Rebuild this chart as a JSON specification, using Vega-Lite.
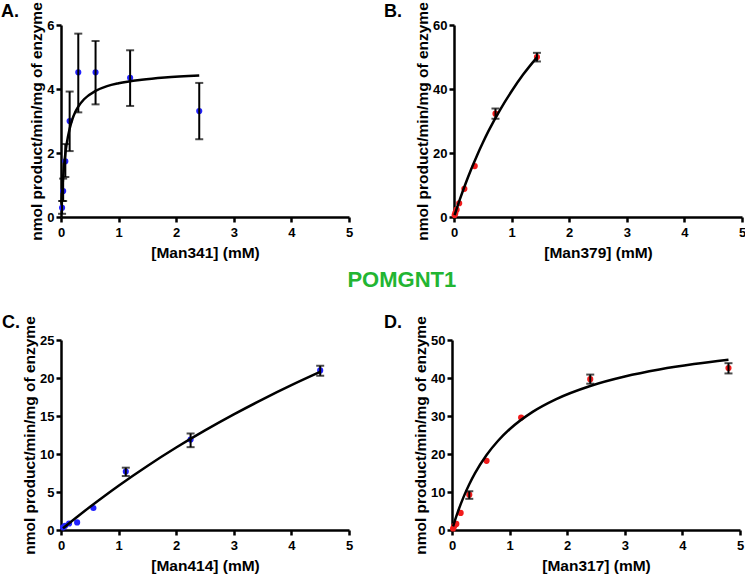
{
  "$schema": "https://vega.github.io/schema/vega-lite/v6.json",
  "padding": {"left": 1, "top": 1, "right": 0, "bottom": 0},
  "background": "white",
  "config": {
    "font": "Liberation Sans",
    "view": {"stroke": null},
    "axis": {
      "grid": false,
      "domainColor": "#000",
      "domainWidth": 2.5,
      "tickColor": "#000",
      "tickWidth": 2.5,
      "tickSize": 5,
      "labelFont": "Liberation Sans",
      "labelFontSize": 13,
      "labelFontWeight": "bold",
      "labelColor": "#000",
      "labelPadding": 2,
      "labelFlush": false,
      "titleFont": "Liberation Sans",
      "titleFontSize": 15.5,
      "titleFontWeight": "bold",
      "titleColor": "#000",
      "titlePadding": 2
    },
    "axisX": {"labelPadding": 4, "titlePadding": 6},
    "title": {"font": "Liberation Sans"}
  },
  "datasets": {
    "a_pts": [
      {"x": 0.01875, "y": 0.29, "lo": 0.1, "hi": 0.5},
      {"x": 0.0375, "y": 0.81, "lo": 0.5, "hi": 1.2},
      {"x": 0.075, "y": 1.74, "lo": 1.25, "hi": 2.28},
      {"x": 0.15, "y": 3.0, "lo": 2.06, "hi": 3.92},
      {"x": 0.3, "y": 4.52, "lo": 3.27, "hi": 5.73},
      {"x": 0.6, "y": 4.52, "lo": 3.52, "hi": 5.5},
      {"x": 1.2, "y": 4.35, "lo": 3.47, "hi": 5.21},
      {"x": 2.4, "y": 3.31, "lo": 2.43, "hi": 4.19}
    ],
    "a_fit": [
      {"x": 0.01, "y": 0.42}, {"x": 0.02, "y": 0.77}, {"x": 0.035, "y": 1.19}, {"x": 0.05, "y": 1.53},
      {"x": 0.075, "y": 1.97}, {"x": 0.1, "y": 2.3}, {"x": 0.15, "y": 2.76}, {"x": 0.2, "y": 3.07},
      {"x": 0.25, "y": 3.29}, {"x": 0.3, "y": 3.45}, {"x": 0.4, "y": 3.68}, {"x": 0.6, "y": 3.94},
      {"x": 0.8, "y": 4.09}, {"x": 1.0, "y": 4.18}, {"x": 1.4, "y": 4.29}, {"x": 1.8, "y": 4.36},
      {"x": 2.4, "y": 4.42}
    ],
    "b_pts": [
      {"x": 0.01125, "y": 0.6},
      {"x": 0.0225, "y": 1.2},
      {"x": 0.045, "y": 2.3},
      {"x": 0.09, "y": 4.3},
      {"x": 0.18, "y": 8.8},
      {"x": 0.36, "y": 15.9},
      {"x": 0.72, "y": 32.3, "lo": 30.7, "hi": 33.9},
      {"x": 1.44, "y": 50.0, "lo": 48.6, "hi": 51.3}
    ],
    "b_fit": [
      {"x": 0.01, "y": 0.56}, {"x": 0.05, "y": 2.77}, {"x": 0.1, "y": 5.42}, {"x": 0.2, "y": 10.4},
      {"x": 0.3, "y": 15.0}, {"x": 0.4, "y": 19.25}, {"x": 0.5, "y": 23.2}, {"x": 0.6, "y": 26.9},
      {"x": 0.8, "y": 33.5}, {"x": 1.0, "y": 39.3}, {"x": 1.2, "y": 44.5}, {"x": 1.44, "y": 49.9}
    ],
    "c_pts": [
      {"x": 0.035, "y": 0.35},
      {"x": 0.07, "y": 0.55},
      {"x": 0.14, "y": 0.85},
      {"x": 0.28, "y": 1.0},
      {"x": 0.5625, "y": 2.9},
      {"x": 1.125, "y": 7.7, "lo": 7.1, "hi": 8.2},
      {"x": 2.25, "y": 11.9, "lo": 10.9, "hi": 12.7},
      {"x": 4.5, "y": 21.0, "lo": 20.3, "hi": 21.6}
    ],
    "c_fit": [
      {"x": 0.035, "y": 0.22}, {"x": 0.1, "y": 0.62}, {"x": 0.25, "y": 1.54}, {"x": 0.5, "y": 3.03},
      {"x": 0.75, "y": 4.45}, {"x": 1.0, "y": 5.83}, {"x": 1.5, "y": 8.43}, {"x": 2.0, "y": 10.85},
      {"x": 2.5, "y": 13.1}, {"x": 3.0, "y": 15.21}, {"x": 3.5, "y": 17.19}, {"x": 4.0, "y": 19.05},
      {"x": 4.5, "y": 20.8}
    ],
    "d_pts": [
      {"x": 0.01875, "y": 0.4},
      {"x": 0.0375, "y": 1.0},
      {"x": 0.075, "y": 1.6},
      {"x": 0.15, "y": 4.5},
      {"x": 0.3, "y": 9.3, "lo": 8.2, "hi": 10.2},
      {"x": 0.6, "y": 18.2},
      {"x": 1.2, "y": 29.6},
      {"x": 2.4, "y": 39.7, "lo": 38.5, "hi": 40.9},
      {"x": 4.8, "y": 42.6, "lo": 41.2, "hi": 43.9}
    ],
    "d_fit": [
      {"x": 0.01875, "y": 0.95}, {"x": 0.05, "y": 2.46}, {"x": 0.1, "y": 4.7}, {"x": 0.2, "y": 8.65},
      {"x": 0.3, "y": 12.03}, {"x": 0.4, "y": 14.95}, {"x": 0.6, "y": 19.73}, {"x": 0.8, "y": 23.48},
      {"x": 1.0, "y": 26.51}, {"x": 1.4, "y": 31.09}, {"x": 1.8, "y": 34.39}, {"x": 2.4, "y": 37.91},
      {"x": 3.0, "y": 40.4}, {"x": 3.6, "y": 42.24}, {"x": 4.2, "y": 43.67}, {"x": 4.8, "y": 44.8}
    ]
  },
  "spacing": 7,
  "vconcat": [
    {
      "spacing": 31,
      "hconcat": [
        {
          "width": 288, "height": 192,
          "title": {"text": "A.", "anchor": "start", "frame": "group", "dx": -60, "offset": -19, "fontSize": 18, "fontWeight": "bold", "color": "#000"},
          "layer": [
            {"data": {"name": "a_pts"}, "mark": {"type": "circle", "size": 38, "opacity": 1, "color": "#2222ff"},
             "encoding": {
               "x": {"field": "x", "type": "quantitative", "scale": {"domain": [0, 5], "nice": false}, "axis": {"values": [0, 1, 2, 3, 4, 5], "title": "[Man341] (mM)"}},
               "y": {"field": "y", "type": "quantitative", "scale": {"domain": [0, 6], "nice": false}, "axis": {"values": [0, 2, 4, 6], "title": "nmol product/min/mg of enzyme"}}}},
            {"data": {"name": "a_pts"}, "transform": [{"filter": "isValid(datum.lo)"}], "mark": {"type": "rule", "strokeWidth": 2, "color": "#000"},
             "encoding": {"x": {"field": "x", "type": "quantitative", "axis": {"values": [0, 1, 2, 3, 4, 5], "title": "[Man341] (mM)"}}, "y": {"field": "lo", "type": "quantitative", "axis": {"values": [0, 2, 4, 6], "title": "nmol product/min/mg of enzyme"}}, "y2": {"field": "hi"}}},
            {"data": {"name": "a_pts"}, "transform": [{"filter": "isValid(datum.lo)"}], "mark": {"type": "tick", "orient": "horizontal", "size": 8, "thickness": 2, "color": "#000"},
             "encoding": {"x": {"field": "x", "type": "quantitative", "axis": {"values": [0, 1, 2, 3, 4, 5], "title": "[Man341] (mM)"}}, "y": {"field": "lo", "type": "quantitative", "axis": {"values": [0, 2, 4, 6], "title": "nmol product/min/mg of enzyme"}}}},
            {"data": {"name": "a_pts"}, "transform": [{"filter": "isValid(datum.lo)"}], "mark": {"type": "tick", "orient": "horizontal", "size": 8, "thickness": 2, "color": "#000"},
             "encoding": {"x": {"field": "x", "type": "quantitative", "axis": {"values": [0, 1, 2, 3, 4, 5], "title": "[Man341] (mM)"}}, "y": {"field": "hi", "type": "quantitative", "axis": {"values": [0, 2, 4, 6], "title": "nmol product/min/mg of enzyme"}}}},
            {"data": {"name": "a_fit"}, "mark": {"type": "line", "strokeWidth": 2.5, "color": "#000", "interpolate": "monotone"},
             "encoding": {"x": {"field": "x", "type": "quantitative", "axis": {"values": [0, 1, 2, 3, 4, 5], "title": "[Man341] (mM)"}}, "y": {"field": "y", "type": "quantitative", "axis": {"values": [0, 2, 4, 6], "title": "nmol product/min/mg of enzyme"}}}}
          ]
        },
        {
          "width": 288, "height": 192,
          "title": {"text": "B.", "anchor": "start", "frame": "group", "dx": -70, "offset": -19, "fontSize": 18, "fontWeight": "bold", "color": "#000"},
          "layer": [
            {"data": {"name": "b_pts"}, "mark": {"type": "circle", "size": 38, "opacity": 1, "color": "#f21c1c"},
             "encoding": {
               "x": {"field": "x", "type": "quantitative", "scale": {"domain": [0, 5], "nice": false}, "axis": {"values": [0, 1, 2, 3, 4, 5], "title": "[Man379] (mM)"}},
               "y": {"field": "y", "type": "quantitative", "scale": {"domain": [0, 60], "nice": false}, "axis": {"values": [0, 20, 40, 60], "title": "nmol product/min/mg of enzyme"}}}},
            {"data": {"name": "b_pts"}, "transform": [{"filter": "isValid(datum.lo)"}], "mark": {"type": "rule", "strokeWidth": 2, "color": "#000"},
             "encoding": {"x": {"field": "x", "type": "quantitative", "axis": {"values": [0, 1, 2, 3, 4, 5], "title": "[Man379] (mM)"}}, "y": {"field": "lo", "type": "quantitative", "axis": {"values": [0, 20, 40, 60], "title": "nmol product/min/mg of enzyme"}}, "y2": {"field": "hi"}}},
            {"data": {"name": "b_pts"}, "transform": [{"filter": "isValid(datum.lo)"}], "mark": {"type": "tick", "orient": "horizontal", "size": 8, "thickness": 2, "color": "#000"},
             "encoding": {"x": {"field": "x", "type": "quantitative", "axis": {"values": [0, 1, 2, 3, 4, 5], "title": "[Man379] (mM)"}}, "y": {"field": "lo", "type": "quantitative", "axis": {"values": [0, 20, 40, 60], "title": "nmol product/min/mg of enzyme"}}}},
            {"data": {"name": "b_pts"}, "transform": [{"filter": "isValid(datum.lo)"}], "mark": {"type": "tick", "orient": "horizontal", "size": 8, "thickness": 2, "color": "#000"},
             "encoding": {"x": {"field": "x", "type": "quantitative", "axis": {"values": [0, 1, 2, 3, 4, 5], "title": "[Man379] (mM)"}}, "y": {"field": "hi", "type": "quantitative", "axis": {"values": [0, 20, 40, 60], "title": "nmol product/min/mg of enzyme"}}}},
            {"data": {"name": "b_fit"}, "mark": {"type": "line", "strokeWidth": 2.5, "color": "#000", "interpolate": "monotone"},
             "encoding": {"x": {"field": "x", "type": "quantitative", "axis": {"values": [0, 1, 2, 3, 4, 5], "title": "[Man379] (mM)"}}, "y": {"field": "y", "type": "quantitative", "axis": {"values": [0, 20, 40, 60], "title": "nmol product/min/mg of enzyme"}}}}
          ]
        }
      ]
    },
    {
      "spacing": 31,
      "title": {"text": "POMGNT1", "anchor": "middle", "offset": 22, "dx": 29, "fontSize": 22, "fontWeight": "bold", "color": "#22b532"},
      "hconcat": [
        {
          "width": 288, "height": 190,
          "title": {"text": "C.", "anchor": "start", "frame": "group", "dx": -59, "offset": -16, "fontSize": 18, "fontWeight": "bold", "color": "#000"},
          "layer": [
            {"data": {"name": "c_pts"}, "mark": {"type": "circle", "size": 38, "opacity": 1, "color": "#2222ff"},
             "encoding": {
               "x": {"field": "x", "type": "quantitative", "scale": {"domain": [0, 5], "nice": false}, "axis": {"values": [0, 1, 2, 3, 4, 5], "title": "[Man414] (mM)"}},
               "y": {"field": "y", "type": "quantitative", "scale": {"domain": [0, 25], "nice": false}, "axis": {"values": [0, 5, 10, 15, 20, 25], "title": "nmol product/min/mg of enzyme"}}}},
            {"data": {"name": "c_pts"}, "transform": [{"filter": "isValid(datum.lo)"}], "mark": {"type": "rule", "strokeWidth": 2, "color": "#000"},
             "encoding": {"x": {"field": "x", "type": "quantitative", "axis": {"values": [0, 1, 2, 3, 4, 5], "title": "[Man414] (mM)"}}, "y": {"field": "lo", "type": "quantitative", "axis": {"values": [0, 5, 10, 15, 20, 25], "title": "nmol product/min/mg of enzyme"}}, "y2": {"field": "hi"}}},
            {"data": {"name": "c_pts"}, "transform": [{"filter": "isValid(datum.lo)"}], "mark": {"type": "tick", "orient": "horizontal", "size": 8, "thickness": 2, "color": "#000"},
             "encoding": {"x": {"field": "x", "type": "quantitative", "axis": {"values": [0, 1, 2, 3, 4, 5], "title": "[Man414] (mM)"}}, "y": {"field": "lo", "type": "quantitative", "axis": {"values": [0, 5, 10, 15, 20, 25], "title": "nmol product/min/mg of enzyme"}}}},
            {"data": {"name": "c_pts"}, "transform": [{"filter": "isValid(datum.lo)"}], "mark": {"type": "tick", "orient": "horizontal", "size": 8, "thickness": 2, "color": "#000"},
             "encoding": {"x": {"field": "x", "type": "quantitative", "axis": {"values": [0, 1, 2, 3, 4, 5], "title": "[Man414] (mM)"}}, "y": {"field": "hi", "type": "quantitative", "axis": {"values": [0, 5, 10, 15, 20, 25], "title": "nmol product/min/mg of enzyme"}}}},
            {"data": {"name": "c_fit"}, "mark": {"type": "line", "strokeWidth": 2.5, "color": "#000", "interpolate": "monotone"},
             "encoding": {"x": {"field": "x", "type": "quantitative", "axis": {"values": [0, 1, 2, 3, 4, 5], "title": "[Man414] (mM)"}}, "y": {"field": "y", "type": "quantitative", "axis": {"values": [0, 5, 10, 15, 20, 25], "title": "nmol product/min/mg of enzyme"}}}}
          ]
        },
        {
          "width": 288, "height": 190,
          "title": {"text": "D.", "anchor": "start", "frame": "group", "dx": -68, "offset": -16, "fontSize": 18, "fontWeight": "bold", "color": "#000"},
          "layer": [
            {"data": {"name": "d_pts"}, "mark": {"type": "circle", "size": 38, "opacity": 1, "color": "#f21c1c"},
             "encoding": {
               "x": {"field": "x", "type": "quantitative", "scale": {"domain": [0, 5], "nice": false}, "axis": {"values": [0, 1, 2, 3, 4, 5], "title": "[Man317] (mM)"}},
               "y": {"field": "y", "type": "quantitative", "scale": {"domain": [0, 50], "nice": false}, "axis": {"values": [0, 10, 20, 30, 40, 50], "title": "nmol product/min/mg of enzyme"}}}},
            {"data": {"name": "d_pts"}, "transform": [{"filter": "isValid(datum.lo)"}], "mark": {"type": "rule", "strokeWidth": 2, "color": "#000"},
             "encoding": {"x": {"field": "x", "type": "quantitative", "axis": {"values": [0, 1, 2, 3, 4, 5], "title": "[Man317] (mM)"}}, "y": {"field": "lo", "type": "quantitative", "axis": {"values": [0, 10, 20, 30, 40, 50], "title": "nmol product/min/mg of enzyme"}}, "y2": {"field": "hi"}}},
            {"data": {"name": "d_pts"}, "transform": [{"filter": "isValid(datum.lo)"}], "mark": {"type": "tick", "orient": "horizontal", "size": 8, "thickness": 2, "color": "#000"},
             "encoding": {"x": {"field": "x", "type": "quantitative", "axis": {"values": [0, 1, 2, 3, 4, 5], "title": "[Man317] (mM)"}}, "y": {"field": "lo", "type": "quantitative", "axis": {"values": [0, 10, 20, 30, 40, 50], "title": "nmol product/min/mg of enzyme"}}}},
            {"data": {"name": "d_pts"}, "transform": [{"filter": "isValid(datum.lo)"}], "mark": {"type": "tick", "orient": "horizontal", "size": 8, "thickness": 2, "color": "#000"},
             "encoding": {"x": {"field": "x", "type": "quantitative", "axis": {"values": [0, 1, 2, 3, 4, 5], "title": "[Man317] (mM)"}}, "y": {"field": "hi", "type": "quantitative", "axis": {"values": [0, 10, 20, 30, 40, 50], "title": "nmol product/min/mg of enzyme"}}}},
            {"data": {"name": "d_fit"}, "mark": {"type": "line", "strokeWidth": 2.5, "color": "#000", "interpolate": "monotone"},
             "encoding": {"x": {"field": "x", "type": "quantitative", "axis": {"values": [0, 1, 2, 3, 4, 5], "title": "[Man317] (mM)"}}, "y": {"field": "y", "type": "quantitative", "axis": {"values": [0, 10, 20, 30, 40, 50], "title": "nmol product/min/mg of enzyme"}}}}
          ]
        }
      ]
    }
  ]
}
